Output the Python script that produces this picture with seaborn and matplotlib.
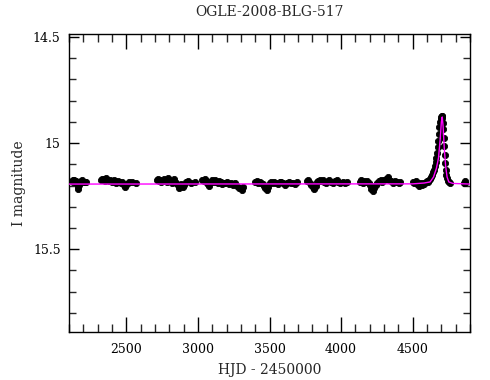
import numpy as np
import pandas as pd
import matplotlib
matplotlib.use("Agg")
import matplotlib.pyplot as plt
import seaborn as sns
from matplotlib.ticker import MultipleLocator

# OGLE photometry (HJD - 2450000, I mag)
hjd = [
    # 2001/2002 season
    2121, 2126, 2131, 2137, 2143, 2149, 2155, 2160, 2165, 2171, 2177, 2184, 2192, 2200, 2210, 2222,
    # 2002
    2322, 2330, 2338, 2345, 2352, 2360, 2368, 2377, 2385, 2393, 2402, 2411, 2420, 2430, 2440, 2450,
    2460, 2470, 2482, 2494, 2506, 2520, 2540, 2570,
    # 2003
    2712, 2720, 2728, 2736, 2745, 2754, 2763, 2772, 2781, 2790, 2800, 2810, 2820, 2830, 2840, 2850,
    2860, 2868, 2876, 2884, 2893, 2902, 2915, 2930, 2950, 2980,
    # 2004
    3032, 3040, 3048, 3056, 3064, 3072, 3080, 3090, 3100, 3110, 3120, 3130, 3140, 3150, 3160, 3170,
    3180, 3192, 3204, 3216, 3230, 3245, 3260, 3275, 3290, 3305, 3318,
    # 2005
    3402, 3412, 3422, 3432, 3442, 3452, 3462, 3472, 3482, 3492, 3502, 3512, 3522, 3534, 3546, 3558,
    3570, 3582, 3594, 3606, 3620, 3635, 3650, 3665, 3680, 3690,
    # 2006
    3762, 3772, 3782, 3792, 3802, 3812, 3822, 3832, 3842, 3852, 3862, 3872, 3882, 3894, 3906, 3918,
    3930, 3942, 3955, 3968, 3980, 3995, 4010, 4025, 4038,
    # 2007
    4132, 4142, 4152, 4162, 4172, 4182, 4192, 4202, 4212, 4222, 4232, 4242, 4252, 4264, 4276, 4288,
    4300, 4312, 4324, 4336, 4348, 4360, 4375, 4390, 4405, 4414,
    # 2008 (event)
    4502, 4512, 4522, 4532, 4542, 4552, 4562, 4572, 4582, 4592, 4600, 4608, 4615,
    4621, 4628, 4635, 4642, 4648, 4654, 4660, 4665, 4670, 4674, 4678, 4682, 4686, 4690, 4694, 4698,
    4701, 4704, 4707, 4710, 4713, 4716, 4719, 4722, 4726, 4730, 4735, 4740, 4746, 4752, 4758,
    # 2009
    4855, 4862, 4868,
]

imag = [
    15.178, 15.172, 15.181, 15.175, 15.183, 15.179, 15.186, 15.205, 15.214, 15.198, 15.183, 15.180,
    15.176, 15.182, 15.185, 15.181,
    15.172, 15.168, 15.175, 15.170, 15.178, 15.166, 15.174, 15.180, 15.172, 15.177, 15.183, 15.176,
    15.180, 15.186, 15.178, 15.182, 15.190, 15.184, 15.197, 15.205, 15.193, 15.185, 15.182, 15.190,
    15.176, 15.170, 15.180, 15.174, 15.183, 15.178, 15.168, 15.175, 15.181, 15.165, 15.172, 15.178,
    15.186, 15.170, 15.184, 15.190, 15.198, 15.210, 15.204, 15.192, 15.208, 15.196, 15.185, 15.180,
    15.188, 15.183,
    15.172, 15.177, 15.168, 15.180, 15.186, 15.195, 15.200, 15.184, 15.176, 15.181, 15.174, 15.183,
    15.188, 15.179, 15.185, 15.192, 15.186, 15.190, 15.184, 15.195, 15.188, 15.196, 15.190, 15.200,
    15.210, 15.222, 15.205,
    15.185, 15.180, 15.190, 15.183, 15.187, 15.194, 15.200, 15.212, 15.220, 15.205, 15.190, 15.184,
    15.188, 15.181, 15.186, 15.192, 15.185, 15.182, 15.188, 15.196, 15.189, 15.184, 15.190, 15.186,
    15.192, 15.185,
    15.180, 15.174, 15.186, 15.196, 15.208, 15.216, 15.200, 15.185, 15.178, 15.172, 15.180, 15.176,
    15.184, 15.190, 15.178, 15.174, 15.182, 15.188, 15.180, 15.176, 15.184, 15.190, 15.182, 15.188,
    15.184,
    15.182, 15.176, 15.188, 15.180, 15.185, 15.178, 15.190, 15.198, 15.215, 15.228, 15.210, 15.196,
    15.186, 15.180, 15.174, 15.182, 15.176, 15.170, 15.162, 15.172, 15.180, 15.186, 15.178, 15.184,
    15.190, 15.185,
    15.182, 15.188, 15.178, 15.194, 15.200, 15.190, 15.196, 15.186, 15.192, 15.184, 15.178, 15.182,
    15.175,
    15.168, 15.160, 15.150, 15.138, 15.125, 15.108, 15.090, 15.070, 15.045, 15.020, 14.990, 14.955,
    14.925, 14.900, 14.885, 14.875, 14.870, 14.872, 14.880, 14.905, 14.935, 14.975, 15.015, 15.055,
    15.095, 15.125, 15.150, 15.165, 15.178, 15.184, 15.188,
    15.186, 15.180, 15.190,
]

ierr = [0.008] * len(hjd)

# best-fit model, sampled by eye
model_hjd = [2100, 4500, 4580, 4621, 4645, 4665, 4680, 4692, 4700, 4706,
             4712, 4720, 4730, 4740, 4752, 4780, 4900]
model_imag = [15.193, 15.192, 15.188, 15.183, 15.160, 15.120, 15.070, 14.980, 14.900, 14.877,
              14.920, 15.020, 15.110, 15.160, 15.183, 15.190, 15.193]

df = pd.DataFrame({"hjd": hjd, "imag": imag, "err": ierr})
model = pd.DataFrame({"hjd": model_hjd, "imag": model_imag})

sns.set_theme(style="ticks")
plt.rcParams["font.family"] = ["DejaVu Serif"]

fig = plt.figure(figsize=(4.9, 3.8), dpi=100)
ax = fig.add_axes([0.1408, 0.1263, 0.8184, 0.7842])

ax.errorbar(df["hjd"], df["imag"], yerr=df["err"], fmt="none", ecolor="black",
            elinewidth=1.6, capsize=0, zorder=2)
sns.scatterplot(data=df, x="hjd", y="imag", ax=ax, color="black", s=20,
                edgecolor="black", linewidth=0.6, marker="o", zorder=3)
sns.lineplot(data=model, x="hjd", y="imag", ax=ax, color="magenta", lw=1.0, zorder=4)

ax.set_xlim(2100, 4900)
ax.set_ylim(15.89, 14.486)

ax.xaxis.set_major_locator(MultipleLocator(500))
ax.xaxis.set_minor_locator(MultipleLocator(100))
ax.yaxis.set_major_locator(MultipleLocator(0.5))
ax.yaxis.set_minor_locator(MultipleLocator(0.1))
ax.set_yticks([14.5, 15, 15.5])
ax.set_yticklabels(["14.5", "15", "15.5"])

ax.tick_params(axis="x", which="major", direction="in", length=11, width=1,
               top=True, bottom=True, labelsize=9, pad=8, colors="black")
ax.tick_params(axis="x", which="minor", direction="in", length=5.5, width=1,
               top=True, bottom=True)
ax.tick_params(axis="y", which="major", direction="in", length=7.5, width=1,
               left=True, right=True, labelsize=9, pad=6, colors="black")
ax.tick_params(axis="y", which="minor", direction="in", length=5, width=1,
               left=True, right=True)
for sp in ax.spines.values():
    sp.set_linewidth(1)
    sp.set_color("black")

ax.set_xlabel("HJD - 2450000", fontsize=10, labelpad=5)
ax.set_ylabel("I magnitude", fontsize=10, labelpad=5)
ax.set_title("OGLE-2008-BLG-517", fontsize=10, pad=13)

fig.savefig("out.png", dpi=100)
